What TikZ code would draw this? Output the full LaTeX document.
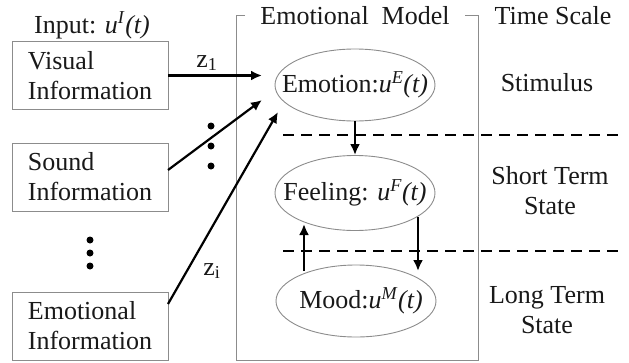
\documentclass[tikz,border=0pt]{standalone}
\usepackage{fontspec}
\setmainfont{LiberationSerif}[Extension=.ttf, UprightFont=*-Regular, ItalicFont=*-Italic, BoldFont=*-Bold, BoldItalicFont=*-BoldItalic]
\usetikzlibrary{shapes.geometric,arrows.meta}
\begin{document}
\begin{tikzpicture}[x=1pt,y=-1pt,
  every node/.style={font=\fontsize{26}{30}\selectfont, text=black!90},
  infobox/.style={draw=black!45, line width=0.9pt, minimum width=156pt, minimum height=68pt, align=left, inner sep=0pt},
  state/.style={ellipse, draw=black!45, line width=0.9pt, minimum width=160pt, minimum height=72pt, inner sep=0pt},
  arr/.style={line width=2.2pt, -{Latex[length=11pt,width=10pt]}},
  sep/.style={line width=2pt, dash pattern=on 11pt off 7pt},
  dot/.style={circle, fill=black, inner sep=0pt, minimum size=7pt},
  frame/.style={draw=black!45, line width=0.9pt},
  lbl/.style={align=center}]
\useasboundingbox (0,0) rectangle (629,362);

% inputs
\node[anchor=base] (inp) at (92,33) {Input: \textit{u}\textsuperscript{\textit{I}}\textit{(t)}};
\node[infobox] (vis) at (90,75.5) {Visual\\Information};
\node[infobox] (snd) at (90,177) {Sound\\Information};
\node[infobox] (emi) at (90,326) {Emotional\\Information};

\node[dot] (d1) at (90,240) {};
\node[dot] (d2) at (90,253) {};
\node[dot] (d3) at (90,266) {};
\node[dot] (d4) at (211,126) {};
\node[dot] (d5) at (211,146) {};
\node[dot] (d6) at (211,166) {};

% frame
\draw[frame] (245,15) -- (236,15) -- (236,360) -- (478,360) -- (478,15) -- (465,15);
\node[anchor=base] (title) at (355,24) {Emotional\ \ Model};
\node[anchor=base] (ts) at (553,24) {Time Scale};

% states
\node[state] (emo) at (355,85) {};
\node (emot) at (emo.center) {Emotion:\textit{u}\textsuperscript{\textit{E}}\textit{(t)}};
\node[state, minimum height=75pt] (fee) at (355,193) {};
\node (feet) at (fee.center) {Feeling: \textit{u}\textsuperscript{\textit{F}}\textit{(t)}};
\node[state] (moo) at (356,301) {};
\node (moot) at ([xshift=5pt]moo.center) {Mood:\textit{u}\textsuperscript{\textit{M}}\textit{(t)}};

% dashed separators
\coordinate (s1a) at (283,135);
\coordinate (s1b) at (620,135);
\coordinate (s2a) at (283,251);
\coordinate (s2b) at (620,251);
\draw[sep] (s1a) -- (s1b);
\draw[sep] (s2a) -- (s2b);

% input arrows
\coordinate (z1e) at (262,75.5);
\coordinate (s0) at (168,170);
\coordinate (s1) at (262,100);
\coordinate (e0) at (168,304);
\coordinate (e1) at (278,112);
\draw[arr] (vis.east) -- (z1e);
\draw[arr] (s0) -- (s1);
\draw[arr] (e0) -- (e1);
\node[anchor=base] (z1) at (207,67) {z\textsubscript{1}};
\node[anchor=base] (zi) at (212,275) {z\textsubscript{i}};

% internal arrows
\coordinate (ua0) at (304,271);
\coordinate (ua1) at (304,224);
\coordinate (da0) at (418,217);
\coordinate (da1) at (418,271);
\draw[arr] (emo.south) -- (fee.north);
\draw[arr] (ua0) -- (ua1);
\draw[arr] (da0) -- (da1);

% time scale labels
\node[anchor=base] (stim) at (547,91) {Stimulus};
\node[lbl] (sts) at (550,191) {Short Term\\State};
\node[lbl] (lts) at (547,310) {Long Term\\State};
\end{tikzpicture}
\end{document}
